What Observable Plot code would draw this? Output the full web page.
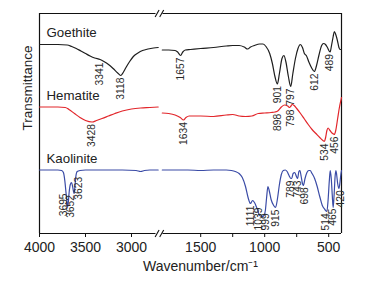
<!DOCTYPE html>
<html><head><meta charset="utf-8">
<script src="https://cdn.jsdelivr.net/npm/d3@7"></script>
<script src="https://cdn.jsdelivr.net/npm/@observablehq/plot@0.6"></script>
<style>
html,body{margin:0;padding:0;background:#fff;}
#chart{width:370px;height:281px;}
</style></head><body><div id="chart"></div>
<script>
// ---- data (wavenumber in cm-1, transmittance in arbitrary offset units) ----
const goethiteWN = [4000,3800,3700,3650,3600,3550,3500,3450,3400,3341,3300,3250,3200,3150,3118,3090,3060,3020,2980,2930,2880,2820,2760,2710,
  1800,1750,1700,1680,1657,1640,1620,1580,1500,1400,1300,1250,1200,1160,1133,1110,1080,1040,1013,990,961,940,920,901,885,865,850,835,815,797,780,760,740,722,705,690,675,655,635,612,595,575,555,540,525,510,489,478,465,456,445,432,420,410,400];
const goethiteT = [189,189,188.5,187,185,182.5,180,177.5,175.5,174,172,169,165,160.5,158,161,166,172,177,180.5,183,184.5,185.5,186,
  183.5,183.5,183,181.5,178,181.5,183.5,184,185,186,187.5,188,188,186.5,184.5,186.5,188,189.5,189.5,187,180,170,157,149.5,160,175,178,172,157,147,160,175,185,189,186,180,178,171.5,166,162,168,179,188,190,189,186,181.5,188,197,202,199,193,186,184,184];

const hematiteWN = [4000,3800,3720,3680,3620,3560,3500,3428,3380,3320,3250,3180,3100,3000,2900,2800,2710,
  1800,1750,1700,1660,1634,1615,1590,1500,1400,1300,1250,1200,1150,1100,1050,1000,950,920,898,870,845,820,808,798,785,770,750,720,690,660,630,600,570,545,534,524,514,505,490,470,456,445,430,415,405,400];
const hematiteT = [126.5,126.5,126,124,120,116,113,111.5,113,115,117.5,120,122.5,124.5,125.5,126,126.5,
  120.5,120,118.5,116,113.5,116,117.5,117.5,117,118.5,119,117.5,117,117.5,120,120.5,121,121.5,122.5,126.5,128.5,127.5,126,127,129,128,125,120,114.5,109,104,100,96,93,92,96,103,105.5,103,100,99,103,115,127,133,136];

const kaoliniteWN = [4000,3800,3760,3740,3725,3712,3700,3695,3688,3678,3665,3652,3640,3630,3623,3615,3605,3590,3560,3500,3300,3100,2950,2900,2860,2800,2710,
  1800,1700,1600,1500,1400,1300,1260,1230,1200,1175,1150,1130,1111,1095,1080,1060,1039,1020,1005,995,985,975,965,950,930,915,900,885,870,855,840,825,810,795,789,778,765,752,743,733,725,715,705,698,685,670,655,645,630,610,590,570,550,530,514,505,495,488,480,472,465,458,450,444,438,430,420,412,405,400];
const kaoliniteT = [63.5,63.5,63,61,53,41,30,26.5,30,41,49,51,47,42,40,47,57,62,63,63.5,63.5,63.5,63,62,63,63.5,63.5,
  63.5,63.5,63.5,63,63.5,63.5,63,62,60,56,47,36,30,33,31,25,18,17,18,23,36,47,43,34,28,26,35,49,59,63,63.5,62,58,55,55,60,61,57,55,62,63,57,50,48,55,61,63,63,60,55,47,37,28,24,22,33,53,63,55,38,26,38,57,63,59,50,45,51,59,63];

const goethitePeaks = [3341,3118,1657,901,797,612,489];
const hematitePeaks = [3428,1634,898,798,534,456];
const kaolinitePeaks = [3695,3652,3623,1111,1039,999,915,789,743,698,514,465,420];

const seriesNames = ["Goethite","Hematite","Kaolinite"];
const seriesColors = ["#1e1e1e","#e2262b","#3a4ba6"];
const xTicksMajor = [4000,3500,3000,1500,1000,500];
const xTicksMinor = [1250,750];
const xTitle = "Wavenumber/cm\u207B\u00B9";
const yTitle = "Transmittance";

// ---- broken x axis: 4000-2700 and 1800-400 ----
const K1 = 0.092, K2 = 0.128, GAP = 3.2;
const LEFT_LEN = (4000 - 2700) * K1;
const brk = w => w >= 2250 ? (4000 - w) * K1 : LEFT_LEN + GAP + (1800 - w) * K2;
const U_MAX = brk(400);

const series = [
  {name: seriesNames[0], wn: goethiteWN, t: goethiteT, peaks: goethitePeaks},
  {name: seriesNames[1], wn: hematiteWN, t: hematiteT, peaks: hematitePeaks},
  {name: seriesNames[2], wn: kaoliniteWN, t: kaoliniteT, peaks: kaolinitePeaks}
];

const rows = [];
series.forEach(s => {
  s.pts = s.wn.map((w, i) => ({name: s.name, key: s.name + (w >= 2250 ? "L" : "R"), u: brk(w), t: s.t[i]}))
    .sort((a, b) => a.u - b.u);
  rows.push(...s.pts);
});

function tAt(s, u) {
  const p = s.pts;
  for (let i = 1; i < p.length; i++) {
    if (p[i].key !== p[i-1].key) continue;
    if (u >= p[i-1].u && u <= p[i].u) {
      const f = (u - p[i-1].u) / (p[i].u - p[i-1].u || 1);
      return p[i-1].t + f * (p[i].t - p[i-1].t);
    }
  }
  return null;
}
function lowest(s, a, b) {
  let m = Infinity;
  for (let u = a; u <= b + 1e-9; u += 0.25) {
    const v = tAt(s, u);
    if (v != null) m = Math.min(m, v);
  }
  return m;
}

const LABEL_FS = 10.3;
const labels = [];
series.forEach(s => {
  const ls = s.peaks.map(w => {
    const u = brk(w);
    return {text: String(w), u, x: u};
  }).sort((a, b) => a.x - b.x);
  for (let it = 0; it < 60; it++) {
    for (let i = 1; i < ls.length; i++) {
      const d = ls[i].x - ls[i-1].x;
      if (d < 7.2) { const p = (7.2 - d) / 2; ls[i].x += p; ls[i-1].x -= p; }
    }
  }
  ls.forEach(l => {
    const len = l.text.length * 0.556 * LABEL_FS;
    l.y = Math.max(lowest(s, l.x - 2, l.x + 2) - 2, 3 + len);
  });
  labels.push(...ls);
});

const names = series.map(s => ({text: s.name, u: 0, t: s.pts[0].t + 7.5}));

const frameH = [
  {y: 0, x1: 0, x2: 116.5}, {y: 0, x1: 123.5, x2: U_MAX},
  {y: 220, x1: 0, x2: 116.5}, {y: 220, x1: 123.5, x2: U_MAX}
];
const slashes = [];
[0, 220].forEach(y => [117.6, 122.2].forEach(c => slashes.push({x1: c - 2, y1: y - 3.6, x2: c + 2, y2: y + 3.6})));

const majorU = xTicksMajor.map(brk);
const labelOf = new Map(xTicksMajor.map(w => [brk(w), String(w)]));

const plot = Plot.plot({
  width: 370, height: 281,
  marginLeft: 39, marginRight: 29, marginTop: 13, marginBottom: 48,
  x: {domain: [0, U_MAX], axis: null},
  y: {domain: [0, 220], axis: null},
  color: {domain: seriesNames, range: seriesColors},
  style: {fontFamily: "'Liberation Sans', Arial, sans-serif", background: "#fff", color: "#222", overflow: "visible"},
  marks: [
    Plot.ruleX([0, U_MAX], {stroke: "#111", strokeWidth: 1.2}),
    Plot.ruleY(frameH, {y: "y", x1: "x1", x2: "x2", stroke: "#111", strokeWidth: 1.2}),
    Plot.link(slashes, {x1: "x1", y1: "y1", x2: "x2", y2: "y2", stroke: "#111", strokeWidth: 1.1}),
    Plot.axisX(majorU, {anchor: "bottom", tickSize: 4, tickPadding: 5, fontSize: 14, label: null,
      tickFormat: u => labelOf.get(u), stroke: "#111", fill: "#222"}),
    Plot.axisX(xTicksMinor.map(brk), {anchor: "bottom", tickSize: 4, label: null, tickFormat: () => "", stroke: "#111"}),
    Plot.line(rows, {x: "u", y: "t", z: "key", stroke: "name", strokeWidth: 1.2, curve: "monotone-x"}),
    Plot.text(labels, {x: "x", y: "y", text: "text", rotate: -90, textAnchor: "end", lineAnchor: "middle", fontSize: LABEL_FS, fill: "#2a2a2a"}),
    Plot.text(names, {x: "u", y: "t", text: "text", dx: 7, textAnchor: "start", lineAnchor: "bottom", fontSize: 13.3, fill: "#222"}),
    Plot.text([yTitle], {frameAnchor: "left", rotate: -90, dx: -12, dy: 7, fontSize: 13.5, fill: "#222"}),
    Plot.text([xTitle], {frameAnchor: "bottom", dx: 10, dy: 37.5, lineAnchor: "bottom", fontSize: 14, fill: "#222"})
  ]
});
document.getElementById("chart").appendChild(plot);
</script>
</body></html>
